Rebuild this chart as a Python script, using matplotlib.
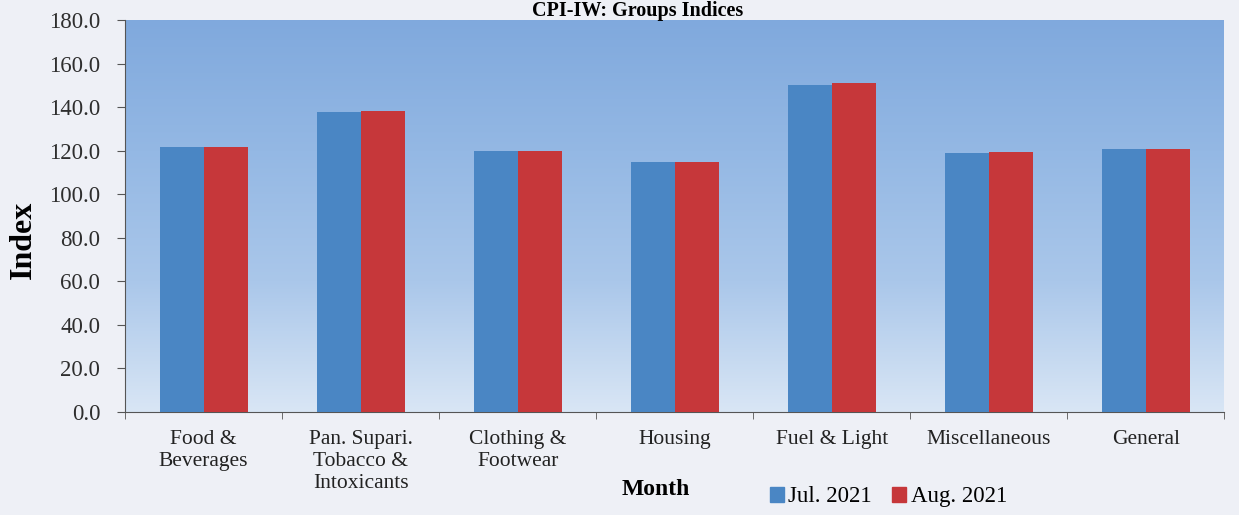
import numpy as np
import matplotlib.pyplot as plt
from matplotlib.colors import LinearSegmentedColormap
from matplotlib.patches import Patch

groups = ['Food &\nBeverages', 'Pan. Supari.\nTobacco &\nIntoxicants', 'Clothing &\nFootwear',
          'Housing', 'Fuel & Light', 'Miscellaneous', 'General']
jul_2021 = [121.6, 137.8, 119.8, 114.8, 150.1, 119.0, 120.7]
aug_2021 = [121.6, 138.3, 119.9, 114.9, 151.2, 119.6, 120.8]
series_names = ['Jul. 2021', 'Aug. 2021']

plt.rcParams['font.family'] = ['Liberation Serif', 'DejaVu Serif']

fig = plt.figure(figsize=(12.39, 5.15), dpi=100, facecolor='#eef0f6')
ax = fig.add_axes([0.101, 0.2, 0.887, 0.761])

x = np.arange(len(groups))
w = 0.28
ax.bar(x - w / 2, jul_2021, w, color='#4a86c4', zorder=3)
ax.bar(x + w / 2, aug_2021, w, color='#c6373a', zorder=3)

ax.set_xlim(-0.5, len(groups) - 0.5)
ax.set_ylim(0, 180)

# background gradient, dark blue on top to pale at bottom
cmap = LinearSegmentedColormap.from_list('bg', ['#d9e6f5', '#aac7ea', '#94b8e4', '#80a9dd'])
grad = np.linspace(0, 1, 256).reshape(-1, 1)
ax.imshow(grad, extent=[-0.5, len(groups) - 0.5, 0, 180], origin='lower',
          aspect='auto', cmap=cmap, zorder=0)

ax.set_yticks(range(0, 181, 20))
ax.set_yticklabels(['%.1f' % v for v in range(0, 181, 20)], fontsize=16.5, color='#2e2e2e')
ax.set_xticks(x)
ax.set_xticklabels(groups, fontsize=15.5, color='#222222', va='top')
ax.set_xticks(np.arange(-0.5, len(groups), 1), minor=True)
ax.tick_params(axis='x', which='major', length=0, pad=13)
ax.tick_params(axis='x', which='minor', length=5, color='#555555')
ax.tick_params(axis='y', length=6, color='#555555', pad=12)

for s in ['top', 'right']:
    ax.spines[s].set_visible(False)
for s in ['left', 'bottom']:
    ax.spines[s].set_color('#555555')

ax.set_ylabel('Index', fontsize=23, fontweight='bold')
ax.yaxis.set_label_coords(-0.079, 0.44)
fig.text(0.529, 0.049, 'Month', fontsize=17, fontweight='bold', ha='center', va='center')
fig.text(0.515, 0.999, 'CPI-IW: Groups Indices', fontsize=14.5, fontweight='bold',
         ha='center', va='top')

handles = [Patch(color='#4a86c4'), Patch(color='#c6373a')]
fig.legend(handles, series_names, loc='center', bbox_to_anchor=(0.717, 0.035), ncol=2,
           frameon=False, fontsize=16.5, handlelength=0.6, handleheight=0.6,
           handletextpad=0.2, columnspacing=0.9)

fig.savefig('out.png', dpi=100, facecolor=fig.get_facecolor())
